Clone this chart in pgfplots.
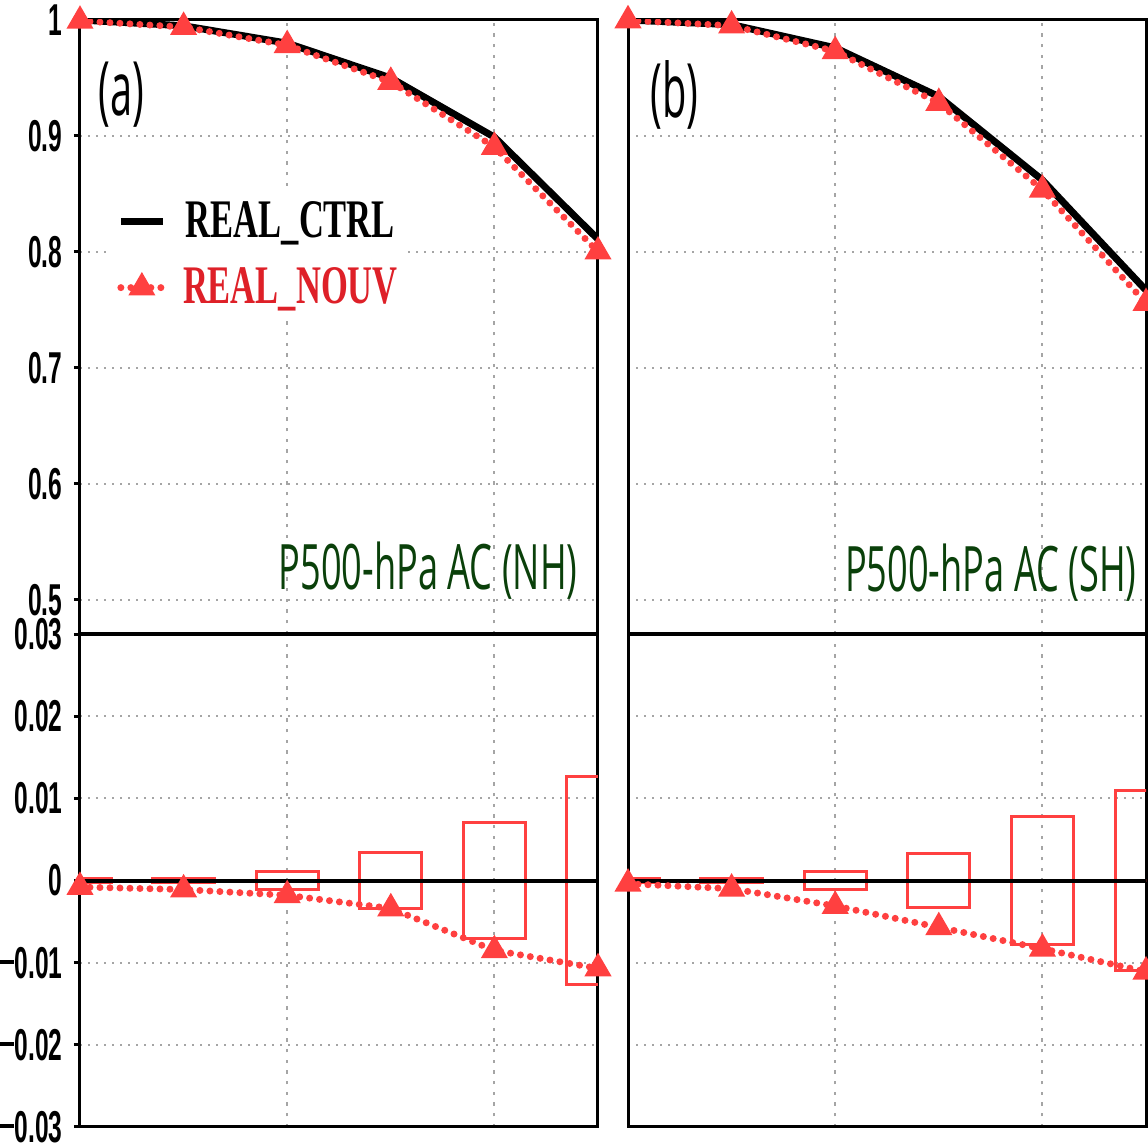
\documentclass[border=0pt]{standalone}
\usepackage{fontspec}
\setmainfont{Liberation Serif}
\setsansfont{Liberation Sans}
\newfontfamily\osans{Open Sans}
\usepackage{graphicx}
\usepackage{pgfplots}
\usepackage{pgfplotstable}
\pgfplotsset{compat=1.18}

\definecolor{myred}{RGB}{255,64,64}
\definecolor{legred}{RGB}{222,32,40}
\definecolor{dkgreen}{RGB}{10,64,10}
\definecolor{gridgray}{RGB}{165,165,165}

% x ctrl nouv diff(nouv-ctrl) box(half height)
\pgfplotstableread{
x ctrl  nouv   diff    box
0 1.000 0.9992 -0.0008 0.0002
1 0.995 0.9939 -0.0011 0.0003
2 0.980 0.9782 -0.0018 0.0011
3 0.950 0.9466 -0.0034 0.0034
4 0.899 0.8905 -0.0085 0.0071
5 0.811 0.8003 -0.0107 0.0126
}\nh
\pgfplotstableread{
x ctrl  nouv   diff    box
0 1.000 0.9996 -0.0004 0.0002
1 0.996 0.9951 -0.0010 0.0003
2 0.976 0.9730 -0.0031 0.0011
3 0.934 0.9284 -0.0057 0.0033
4 0.862 0.8537 -0.0083 0.0078
5 0.767 0.7559 -0.0111 0.0110
}\sh

\newcommand\tkl[1]{\scalebox{0.55}[1]{\fontsize{13.4pt}{13.4pt}\selectfont\sffamily\bfseries #1}}
\newcommand\mn{\rule[0.31em]{0.72em}{0.1em}\hspace{0.04em}}
\newcommand\lgd[1]{\scalebox{0.635}[1]{\fontsize{16.3pt}{18pt}\selectfont\bfseries #1}}
\newcommand\ttxt[1]{\scalebox{0.577}[1]{\fontsize{18.8pt}{20pt}\selectfont\osans #1}}
\newcommand\lbl[1]{\scalebox{0.53}[1]{\fontsize{22.5pt}{24pt}\selectfont\osans #1}}

\pgfplotsset{
  panel/.style={scale only axis, width=155.4pt, xmin=0, xmax=5,
    xtick={2,4}, xticklabels={}, xtick style={draw=none},
    xmajorgrids, ymajorgrids, scaled y ticks=false, ytick pos=left,
    x grid style={gridgray, line width=0.6pt, dash pattern=on 1pt off 2.2pt},
    y grid style={gridgray, line width=0.6pt, dash pattern=on 0.6pt off 1.8pt},
    axis line style={black, line width=0.9pt},
    tick align=outside, major tick length=1.8pt,
    ytick style={black, line width=0.9pt},
    yticklabel style={inner sep=0pt, xshift=-3.3pt}},
  noylab/.style={yticklabels={}, ytick style={draw=none}},
  topp/.style={panel, height=184.2pt, ymin=0.4707, ymax=1,
    ytick={0.5,0.6,0.7,0.8,0.9,1}},
  botp/.style={panel, height=147.9pt, ymin=-0.03, ymax=0.03,
    ytick={-0.03,-0.02,-0.01,0,0.01,0.02,0.03}},
  ctrl/.style={black, line width=2.1pt, mark=none},
  nouv/.style={myred, line width=2.1pt, dash pattern=on 0pt off 3pt,
    line cap=round, mark=triangle*, mark size=2.6pt,
    mark options={solid, fill=myred}},
  boxp/.style={ybar, bar width=18.6pt, bar shift=0pt, draw=myred,
    fill=none, line width=0.9pt},
}

\begin{document}
\begin{tikzpicture}
\useasboundingbox (0,0) rectangle (344.4pt,344.1pt);
\clip (0,0) rectangle (344.4pt,344.1pt);

% (a) top
\begin{axis}[topp, at={(24pt,153.9pt)}, anchor=south west,
  yticklabels={\tkl{0.5},\tkl{0.6},\tkl{0.7},\tkl{0.8},\tkl{0.9},\tkl{1}},
  legend image code/.code={\draw[mark repeat=2,mark phase=2,#1]
    plot coordinates {(0pt,0pt) (6.3pt,0pt) (12.6pt,0pt)};},
  legend style={at={(axis cs:0.29,0.853)}, anchor=north west,
    draw=none, fill=white, inner sep=2pt, row sep=5.5pt, column sep=4pt,
    nodes={inner sep=1pt}}]
\addplot[ctrl] table[x=x, y=ctrl] {\nh};
\addlegendentry{\lgd{REAL\_CTRL}}
\addplot[nouv] table[x=x, y=nouv] {\nh};
\addlegendentry{\lgd{\textcolor{legred}{REAL\_NOUV}}}
\end{axis}

% (a) bottom
\begin{axis}[botp, at={(24pt,6pt)}, anchor=south west,
  yticklabels={\tkl{\mn0.03},\tkl{\mn0.02},\tkl{\mn0.01},\tkl{0},\tkl{0.01},\tkl{0.02},\tkl{0.03}}]
\addplot[boxp] table[x=x, y=box] {\nh};
\addplot[boxp] table[x=x, y expr=-\thisrow{box}] {\nh};
\addplot[black, line width=1.2pt, mark=none] coordinates {(0,0) (5,0)};
\addplot[nouv] table[x=x, y=diff] {\nh};
\end{axis}

% (b) top
\begin{axis}[topp, noylab, at={(188.4pt,153.9pt)}, anchor=south west]
\addplot[ctrl] table[x=x, y=ctrl] {\sh};
\addplot[nouv] table[x=x, y=nouv] {\sh};
\end{axis}

% (b) bottom
\begin{axis}[botp, noylab, at={(188.4pt,6pt)}, anchor=south west]
\addplot[boxp] table[x=x, y=box] {\sh};
\addplot[boxp] table[x=x, y expr=-\thisrow{box}] {\sh};
\addplot[black, line width=1.2pt, mark=none] coordinates {(0,0) (5,0)};
\addplot[nouv] table[x=x, y=diff] {\sh};
\end{axis}

\node[anchor=west, inner sep=0pt] at (29.4pt,315.6pt) {\lbl{(a)}};
\node[anchor=west, inner sep=0pt] at (195pt,315.6pt) {\lbl{(b)}};
\node[anchor=base east, inner sep=0pt] at (173.4pt,167.1pt) {\textcolor{dkgreen}{\ttxt{P500-hPa AC (NH)}}};
\node[anchor=base east, inner sep=0pt] at (341.1pt,166.5pt) {\textcolor{dkgreen}{\ttxt{P500-hPa AC (SH)}}};
\end{tikzpicture}
\end{document}
